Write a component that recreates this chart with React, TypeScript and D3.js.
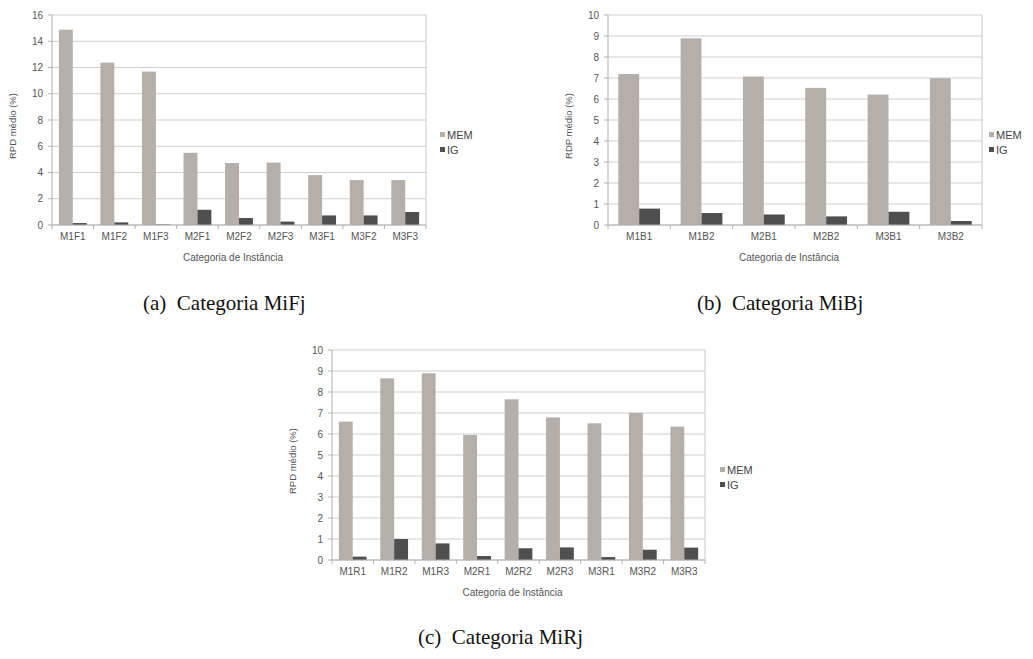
import React from "react";
import * as d3 from "d3";

// Series names and colours
const seriesNames = ["MEM", "IG"];
const seriesColors = ["#b4afaa", "#4f4f4f"];

// (a) Categoria MiFj
const catsF = ["M1F1", "M1F2", "M1F3", "M2F1", "M2F2", "M2F3", "M3F1", "M3F2", "M3F3"];
const memF = [14.88, 12.37, 11.69, 5.5, 4.72, 4.76, 3.8, 3.42, 3.42];
const igF = [0.15, 0.2, 0.04, 1.16, 0.53, 0.26, 0.73, 0.73, 0.99];
const ticksF = [0, 2, 4, 6, 8, 10, 12, 14, 16];

// (b) Categoria MiBj
const catsB = ["M1B1", "M1B2", "M2B1", "M2B2", "M3B1", "M3B2"];
const memB = [7.19, 8.89, 7.07, 6.53, 6.21, 6.99];
const igB = [0.78, 0.57, 0.5, 0.41, 0.63, 0.19];
const ticksB = [0, 1, 2, 3, 4, 5, 6, 7, 8, 9, 10];

// (c) Categoria MiRj
const catsR = ["M1R1", "M1R2", "M1R3", "M2R1", "M2R2", "M2R3", "M3R1", "M3R2", "M3R3"];
const memR = [6.59, 8.65, 8.89, 5.95, 7.65, 6.79, 6.51, 7.01, 6.35];
const igR = [0.16, 1.0, 0.79, 0.19, 0.56, 0.6, 0.14, 0.49, 0.59];
const ticksR = [0, 1, 2, 3, 4, 5, 6, 7, 8, 9, 10];

const xTitle = "Categoria de Instância";

type PanelProps = {
  left: number;
  top: number;
  width: number;
  height: number;
  cats: string[];
  mem: number[];
  ig: number[];
  ticks: number[];
  yLabel: string;
  legendDx: number;
  caption: string;
  captionX: number;
  captionY: number;
};

const sans = "'Liberation Sans', Arial, sans-serif";

function Panel(p: PanelProps) {
  const x0 = d3
    .scaleBand<string>()
    .domain(p.cats)
    .range([p.left, p.left + p.width])
    .paddingInner(0.33)
    .paddingOuter(0.165);
  const x1 = d3.scaleBand<string>().domain(seriesNames).range([0, x0.bandwidth()]);
  const yMax = p.ticks[p.ticks.length - 1];
  const y = d3.scaleLinear().domain([0, yMax]).range([p.top + p.height, p.top]);
  const step = p.width / p.cats.length;
  const bottom = p.top + p.height;
  const right = p.left + p.width;
  const values = [p.mem, p.ig];

  return (
    <g>
      {/* gridlines */}
      {p.ticks.map((t) => (
        <line key={"g" + t} x1={p.left} x2={right} y1={y(t)} y2={y(t)} stroke="#cfcfcf" strokeWidth={1} />
      ))}
      <line x1={right} x2={right} y1={p.top} y2={bottom} stroke="#c8c8c8" />
      {/* bars */}
      {p.cats.map((c, i) =>
        seriesNames.map((s, j) => (
          <rect
            key={c + s}
            x={(x0(c) as number) + (x1(s) as number)}
            y={y(values[j][i])}
            width={x1.bandwidth()}
            height={bottom - y(values[j][i])}
            fill={seriesColors[j]}
          />
        ))
      )}
      {/* y axis */}
      <line x1={p.left} x2={p.left} y1={p.top} y2={bottom} stroke="#b0b0b0" />
      {p.ticks.map((t) => (
        <g key={"t" + t}>
          <line x1={p.left - 4} x2={p.left} y1={y(t)} y2={y(t)} stroke="#b0b0b0" />
          <text x={p.left - 9} y={y(t)} dy="0.35em" textAnchor="end" fontSize={10} fill="#555" fontFamily={sans}>
            {t}
          </text>
        </g>
      ))}
      {/* x axis */}
      <line x1={p.left} x2={right} y1={bottom} y2={bottom} stroke="#b0b0b0" />
      {d3.range(p.cats.length + 1).map((k) => (
        <line key={"xt" + k} x1={p.left + k * step} x2={p.left + k * step} y1={bottom} y2={bottom + 4} stroke="#b0b0b0" />
      ))}
      {p.cats.map((c) => (
        <text
          key={"l" + c}
          x={(x0(c) as number) + x0.bandwidth() / 2}
          y={bottom + 15}
          textAnchor="middle"
          fontSize={10}
          fill="#555"
          fontFamily={sans}
        >
          {c}
        </text>
      ))}
      <text x={p.left + p.width / 2 - 6} y={bottom + 36} textAnchor="middle" fontSize={10} fill="#555" fontFamily={sans}>
        {xTitle}
      </text>
      <text
        transform={`translate(${p.left - 36},${p.top + p.height / 2 + 6}) rotate(-90)`}
        textAnchor="middle"
        fontSize={9.5}
        fill="#555"
        fontFamily={sans}
      >
        {p.yLabel}
      </text>
      {/* legend */}
      {seriesNames.map((s, j) => (
        <g key={"lg" + s} transform={`translate(${right + p.legendDx},${p.top + 120 + j * 15})`}>
          <rect x={0} y={-3} width={5} height={5} fill={seriesColors[j]} />
          <text x={7} y={0} dy="0.35em" fontSize={11} fill="#444" fontFamily={sans}>
            {s}
          </text>
        </g>
      ))}
      {/* caption */}
      <text x={p.captionX} y={p.captionY} fontSize={21} fill="#111" fontFamily="'Liberation Serif', 'DejaVu Serif', serif">
        {p.caption}
      </text>
    </g>
  );
}

export default function App() {
  return (
    <svg
      width={1033}
      height={659}
      style={{ position: "absolute", left: 0, top: 0, background: "#fff" }}
    >
      <rect width={1033} height={659} fill="#fff" />
      <Panel
        left={52}
        top={15}
        width={374}
        height={210}
        cats={catsF}
        mem={memF}
        ig={igF}
        ticks={ticksF}
        yLabel="RPD médio (%)"
        legendDx={14}
        caption={"(a)\u2002Categoria MiFj"}
        captionX={143}
        captionY={310}
      />
      <Panel
        left={608}
        top={15}
        width={374}
        height={210}
        cats={catsB}
        mem={memB}
        ig={igB}
        ticks={ticksB}
        yLabel="RDP médio (%)"
        legendDx={7}
        caption={"(b)\u2002Categoria MiBj"}
        captionX={697}
        captionY={310}
      />
      <Panel
        left={332}
        top={350}
        width={373}
        height={210}
        cats={catsR}
        mem={memR}
        ig={igR}
        ticks={ticksR}
        yLabel="RPD médio (%)"
        legendDx={15}
        caption={"(c)\u2002Categoria MiRj"}
        captionX={418}
        captionY={644}
      />
    </svg>
  );
}
